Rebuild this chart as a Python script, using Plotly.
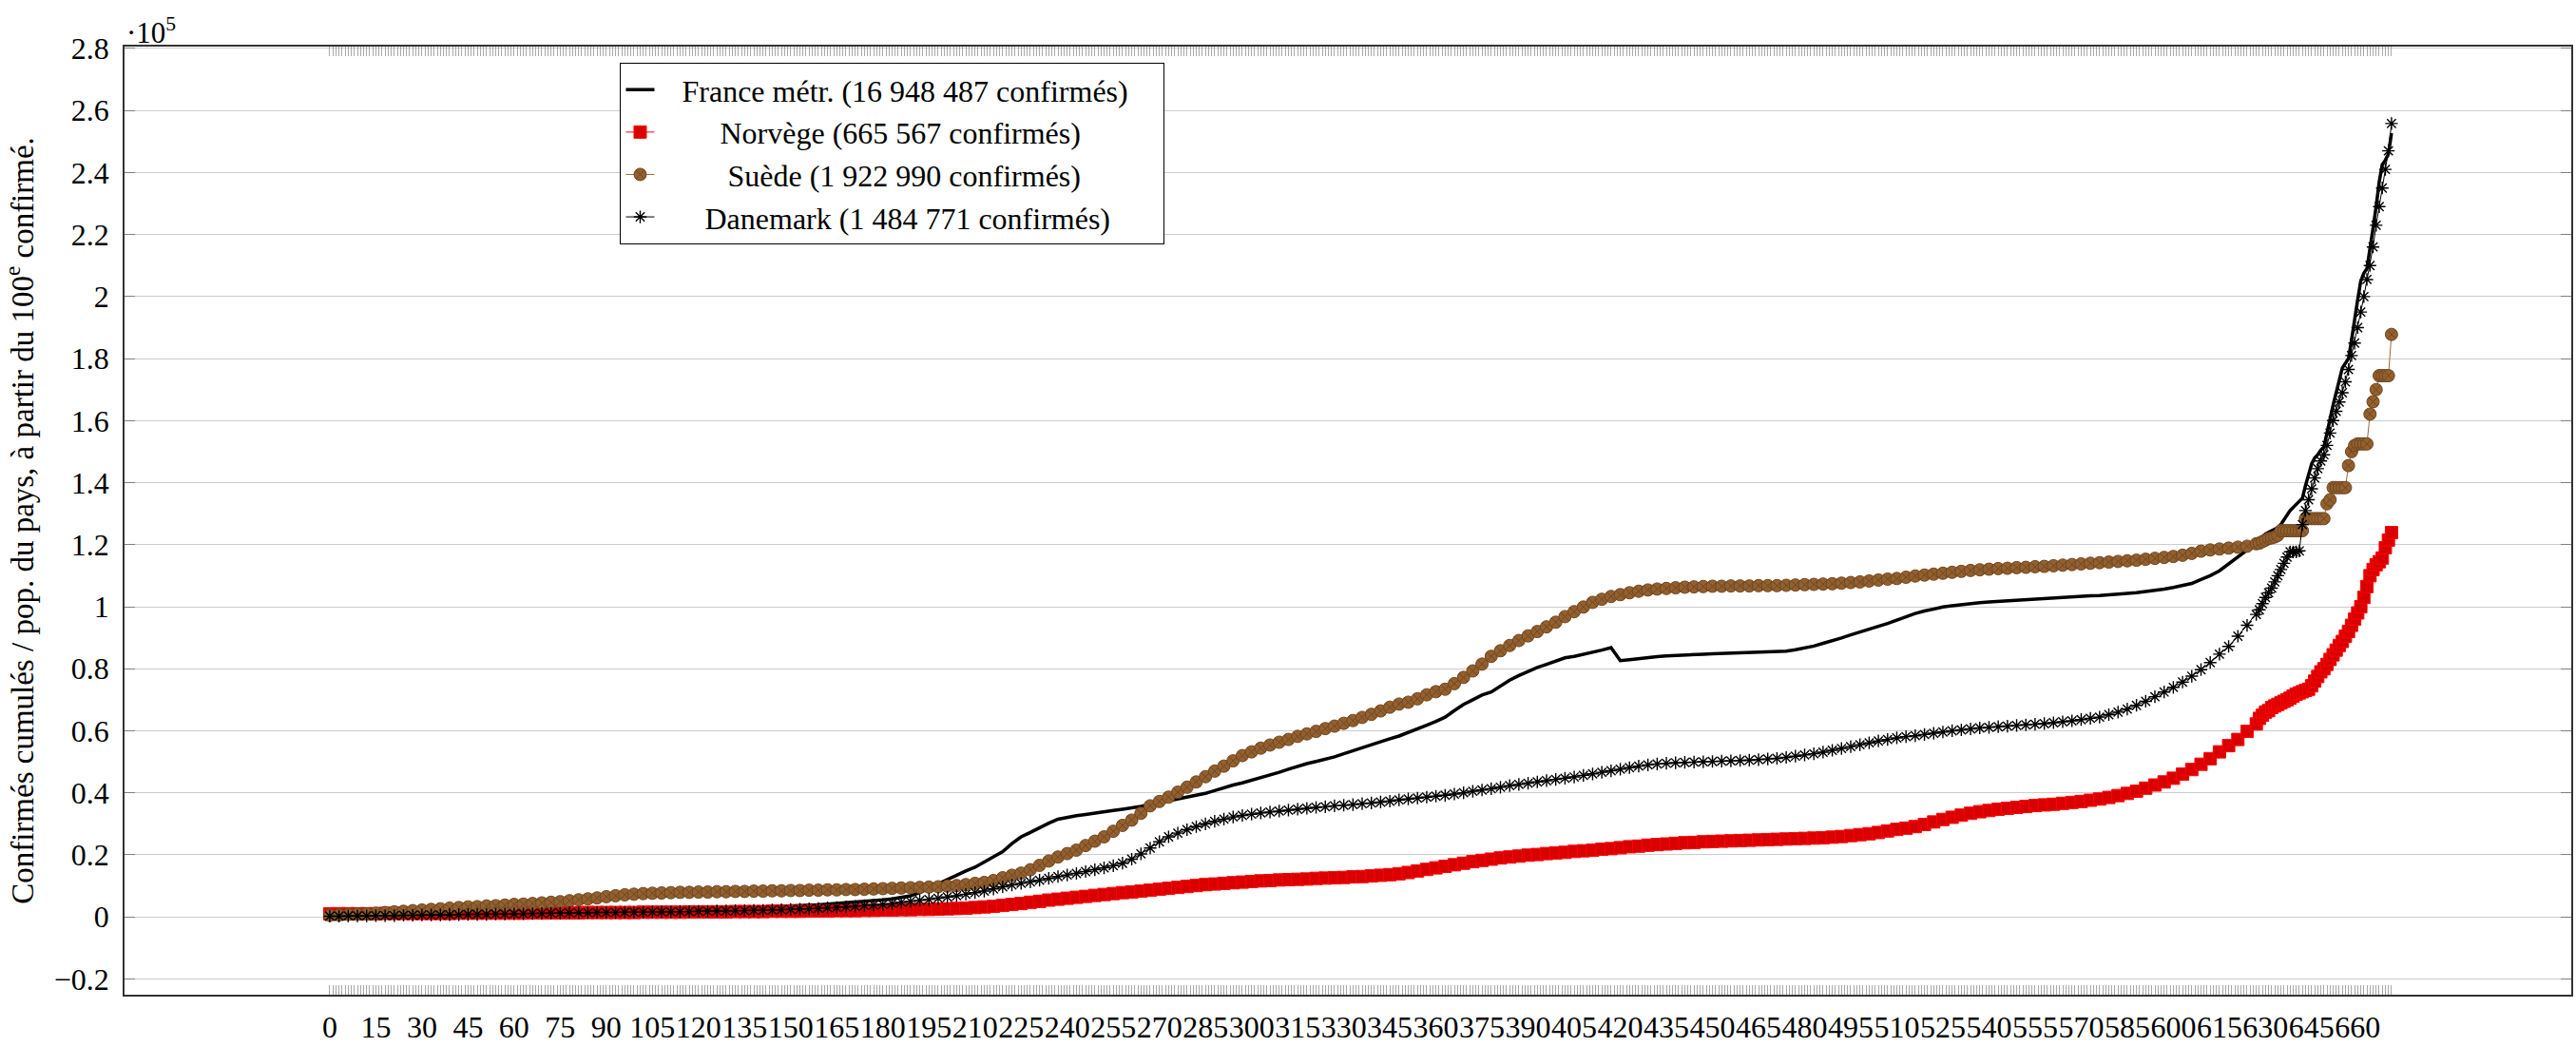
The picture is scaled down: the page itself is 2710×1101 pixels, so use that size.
import plotly.graph_objects as go

# ---------------- data (values in units of 10^5, as displayed on the axis) ----------------
# day index since the 100th confirmed case: every 3 days up to 627, then daily up to 671
days = list(range(0, 628, 3)) + list(range(628, 672))

france_3d = [
    0.002, 0.003, 0.003, 0.004, 0.004, 0.005, 0.005, 0.006, 0.006, 0.007,
    0.008, 0.008, 0.009, 0.009, 0.010, 0.010, 0.011, 0.011, 0.012, 0.012,
    0.013, 0.013, 0.014, 0.014, 0.015, 0.015, 0.016, 0.016, 0.017, 0.017,
    0.018, 0.018, 0.019, 0.020, 0.020, 0.021, 0.022, 0.023, 0.023, 0.024,
    0.025, 0.025, 0.026, 0.027, 0.028, 0.029, 0.030, 0.031, 0.032, 0.033,
    0.034, 0.035, 0.037, 0.039, 0.041, 0.043, 0.045, 0.047, 0.050, 0.052,
    0.055, 0.058, 0.062, 0.068, 0.078, 0.092, 0.108, 0.120, 0.135, 0.148,
    0.160, 0.176, 0.193, 0.210, 0.236, 0.258, 0.272, 0.288, 0.302, 0.315,
    0.321, 0.326, 0.330, 0.335, 0.339, 0.343, 0.347, 0.351, 0.356, 0.362,
    0.368, 0.373, 0.380, 0.386, 0.391, 0.398, 0.407, 0.417, 0.425, 0.432,
    0.440, 0.448, 0.456, 0.466, 0.476, 0.486, 0.494, 0.501, 0.508, 0.516,
    0.526, 0.536, 0.546, 0.555, 0.564, 0.574, 0.583, 0.594, 0.605, 0.618,
    0.630, 0.644, 0.665, 0.685, 0.700, 0.715, 0.725, 0.745, 0.763, 0.778,
    0.792, 0.804, 0.814, 0.825, 0.835, 0.840, 0.846, 0.852, 0.860, 0.868,
    0.826, 0.829, 0.833, 0.836, 0.839, 0.841, 0.843, 0.845, 0.846, 0.847,
    0.848, 0.849, 0.849, 0.850, 0.851, 0.852, 0.853, 0.854, 0.857, 0.861,
    0.866, 0.873, 0.882, 0.890, 0.899, 0.909, 0.918, 0.928, 0.937, 0.946,
    0.957, 0.968, 0.978, 0.986, 0.993, 0.999, 1.003, 1.007, 1.010, 1.013,
    1.015, 1.017, 1.019, 1.020, 1.022, 1.024, 1.026, 1.028, 1.030, 1.032,
    1.033, 1.035, 1.036, 1.038, 1.040, 1.042, 1.045, 1.049, 1.052, 1.057,
    1.062, 1.068, 1.075, 1.088, 1.100, 1.116, 1.138, 1.160, 1.185, 1.205,
]
france_tail = [
    1.215, 1.225, 1.235, 1.240, 1.245, 1.250, 1.255, 1.265, 1.280, 1.295,
    1.310, 1.320, 1.330, 1.340, 1.350, 1.390, 1.430, 1.460, 1.480, 1.490,
    1.505, 1.515, 1.560, 1.610, 1.650, 1.690, 1.730, 1.770, 1.785, 1.800,
    1.860, 1.930, 1.990, 2.050, 2.075, 2.090, 2.150, 2.220, 2.290, 2.370,
    2.425, 2.440, 2.460, 2.527,
]

norvege_3d = [
    0.010, 0.010, 0.010, 0.010, 0.010, 0.010, 0.011, 0.011, 0.011, 0.011,
    0.011, 0.011, 0.011, 0.011, 0.012, 0.012, 0.012, 0.012, 0.012, 0.012,
    0.012, 0.012, 0.013, 0.013, 0.013, 0.013, 0.013, 0.013, 0.014, 0.014,
    0.014, 0.014, 0.014, 0.014, 0.015, 0.015, 0.015, 0.015, 0.015, 0.016,
    0.016, 0.016, 0.016, 0.016, 0.017, 0.017, 0.017, 0.017, 0.018, 0.018,
    0.018, 0.018, 0.019, 0.019, 0.019, 0.020, 0.020, 0.020, 0.021, 0.021,
    0.022, 0.022, 0.023, 0.023, 0.024, 0.024, 0.025, 0.026, 0.027, 0.028,
    0.030, 0.032, 0.034, 0.037, 0.040, 0.043, 0.047, 0.050, 0.054, 0.057,
    0.060, 0.063, 0.066, 0.069, 0.072, 0.075, 0.078, 0.080, 0.083, 0.086,
    0.089, 0.092, 0.095, 0.098, 0.101, 0.104, 0.106, 0.108, 0.110, 0.112,
    0.114, 0.116, 0.117, 0.119, 0.120, 0.121, 0.122, 0.124, 0.125, 0.126,
    0.127, 0.129, 0.130, 0.132, 0.134, 0.136, 0.139, 0.143, 0.148, 0.153,
    0.158, 0.163, 0.168, 0.173, 0.178, 0.182, 0.186, 0.190, 0.193, 0.196,
    0.199, 0.201, 0.204, 0.206, 0.208, 0.211, 0.213, 0.215, 0.218, 0.220,
    0.223, 0.226, 0.228, 0.231, 0.233, 0.235, 0.237, 0.239, 0.240, 0.242,
    0.243, 0.244, 0.245, 0.246, 0.247, 0.248, 0.249, 0.250, 0.251, 0.252,
    0.253, 0.254, 0.255, 0.257, 0.259, 0.262, 0.265, 0.268, 0.272, 0.277,
    0.282, 0.286, 0.291, 0.298, 0.306, 0.314, 0.321, 0.328, 0.334, 0.339,
    0.343, 0.347, 0.350, 0.353, 0.356, 0.359, 0.361, 0.363, 0.366, 0.369,
    0.372, 0.376, 0.380, 0.385, 0.391, 0.398, 0.405, 0.415, 0.425, 0.435,
    0.447, 0.460, 0.475, 0.492, 0.510, 0.532, 0.552, 0.572, 0.598, 0.622,
]
norvege_tail = [
    0.640, 0.650, 0.660, 0.665, 0.675, 0.680, 0.685, 0.690, 0.695, 0.700,
    0.705, 0.712, 0.718, 0.722, 0.726, 0.730, 0.734, 0.745, 0.760, 0.775,
    0.790, 0.800, 0.814, 0.830, 0.845, 0.860, 0.875, 0.888, 0.905, 0.920,
    0.940, 0.960, 0.980, 1.000, 1.030, 1.065, 1.100, 1.120, 1.135, 1.145,
    1.157, 1.190, 1.215, 1.239,
]

suede_3d = [
    0.005, 0.006, 0.008, 0.009, 0.010, 0.012, 0.014, 0.016, 0.018, 0.020,
    0.022, 0.024, 0.026, 0.028, 0.030, 0.032, 0.033, 0.035, 0.036, 0.038,
    0.040, 0.041, 0.043, 0.045, 0.047, 0.049, 0.052, 0.055, 0.058, 0.061,
    0.065, 0.068, 0.071, 0.073, 0.075, 0.076, 0.077, 0.078, 0.079, 0.079,
    0.080, 0.080, 0.081, 0.081, 0.082, 0.082, 0.083, 0.083, 0.084, 0.084,
    0.085, 0.085, 0.086, 0.086, 0.087, 0.087, 0.088, 0.088, 0.089, 0.090,
    0.091, 0.092, 0.093, 0.094, 0.095, 0.096, 0.097, 0.099, 0.101, 0.104,
    0.108, 0.111, 0.117, 0.126, 0.134, 0.141, 0.152, 0.166, 0.180, 0.193,
    0.204, 0.215, 0.230, 0.244, 0.258, 0.276, 0.295, 0.312, 0.334, 0.358,
    0.372, 0.386, 0.402, 0.418, 0.435, 0.452, 0.470, 0.486, 0.503, 0.520,
    0.532, 0.544, 0.554, 0.563, 0.572, 0.582, 0.590, 0.598, 0.607, 0.615,
    0.624, 0.633, 0.643, 0.653, 0.664, 0.676, 0.686, 0.692, 0.703, 0.716,
    0.726, 0.734, 0.752, 0.772, 0.793, 0.815, 0.840, 0.858, 0.875, 0.891,
    0.906, 0.920, 0.935, 0.950, 0.968, 0.984, 0.999, 1.014, 1.024, 1.033,
    1.039, 1.045, 1.050, 1.054, 1.057, 1.059, 1.061, 1.063, 1.064, 1.065,
    1.066, 1.066, 1.067, 1.067, 1.067, 1.068, 1.068, 1.068, 1.069, 1.070,
    1.071, 1.072, 1.073, 1.074, 1.076, 1.078, 1.080, 1.083, 1.086, 1.089,
    1.091, 1.095, 1.099, 1.102, 1.105, 1.108, 1.111, 1.114, 1.117, 1.119,
    1.121, 1.123, 1.124, 1.126, 1.127, 1.129, 1.130, 1.132, 1.134, 1.136,
    1.138, 1.140, 1.142, 1.144, 1.146, 1.148, 1.150, 1.153, 1.156, 1.159,
    1.162, 1.166, 1.172, 1.179, 1.183, 1.186, 1.189, 1.192, 1.195, 1.203,
]
suede_tail = [
    1.205, 1.210, 1.215, 1.220, 1.222, 1.225, 1.230, 1.245, 1.245, 1.245,
    1.245, 1.245, 1.245, 1.245, 1.245, 1.284, 1.284, 1.284, 1.284, 1.284,
    1.284, 1.284, 1.332, 1.345, 1.384, 1.384, 1.384, 1.384, 1.384, 1.455,
    1.500, 1.520, 1.525, 1.525, 1.525, 1.525, 1.621, 1.661, 1.700, 1.745,
    1.745, 1.745, 1.745, 1.878,
]

danemark_3d = [
    0.002, 0.002, 0.003, 0.003, 0.003, 0.004, 0.004, 0.004, 0.005, 0.005,
    0.006, 0.006, 0.006, 0.007, 0.007, 0.008, 0.008, 0.008, 0.009, 0.009,
    0.010, 0.010, 0.011, 0.011, 0.012, 0.012, 0.013, 0.013, 0.013, 0.014,
    0.014, 0.014, 0.015, 0.015, 0.015, 0.016, 0.016, 0.016, 0.017, 0.017,
    0.018, 0.018, 0.019, 0.019, 0.020, 0.020, 0.021, 0.021, 0.022, 0.023,
    0.024, 0.025, 0.026, 0.027, 0.029, 0.030, 0.032, 0.034, 0.036, 0.038,
    0.040, 0.043, 0.047, 0.050, 0.053, 0.056, 0.060, 0.064, 0.068, 0.073,
    0.078, 0.083, 0.090, 0.097, 0.103, 0.108, 0.113, 0.118, 0.124, 0.130,
    0.135, 0.140, 0.146, 0.152, 0.158, 0.165, 0.173, 0.186, 0.203, 0.222,
    0.242, 0.258, 0.270, 0.281, 0.291, 0.300, 0.308, 0.315, 0.322, 0.327,
    0.331, 0.335, 0.338, 0.341, 0.344, 0.347, 0.350, 0.353, 0.355, 0.358,
    0.360, 0.362, 0.365, 0.367, 0.370, 0.373, 0.377, 0.380, 0.383, 0.386,
    0.389, 0.392, 0.396, 0.400, 0.405, 0.409, 0.413, 0.418, 0.423, 0.427,
    0.431, 0.435, 0.439, 0.443, 0.447, 0.451, 0.456, 0.461, 0.466, 0.471,
    0.476, 0.481, 0.486, 0.490, 0.493, 0.495, 0.497, 0.498, 0.499, 0.500,
    0.501, 0.502, 0.503, 0.504, 0.505, 0.507, 0.509, 0.511, 0.514, 0.518,
    0.522, 0.526, 0.531, 0.537, 0.543, 0.549, 0.555, 0.561, 0.567, 0.572,
    0.577, 0.581, 0.584, 0.588, 0.592, 0.596, 0.600, 0.603, 0.606, 0.609,
    0.611, 0.613, 0.615, 0.617, 0.619, 0.621, 0.623, 0.626, 0.629, 0.632,
    0.636, 0.640, 0.644, 0.652, 0.660, 0.670, 0.682, 0.695, 0.710, 0.725,
    0.740, 0.757, 0.776, 0.797, 0.820, 0.847, 0.872, 0.905, 0.940, 0.975,
]
danemark_tail = [
    0.990, 1.010, 1.030, 1.045, 1.060, 1.080, 1.100, 1.120, 1.140, 1.160,
    1.177, 1.177, 1.177, 1.180, 1.265, 1.310, 1.345, 1.380, 1.415, 1.445,
    1.470, 1.490, 1.520, 1.560, 1.600, 1.630, 1.660, 1.690, 1.725, 1.765,
    1.810, 1.850, 1.900, 1.950, 2.000, 2.055, 2.100, 2.160, 2.230, 2.290,
    2.350, 2.410, 2.470, 2.558,
]

france = france_3d + france_tail
norvege = norvege_3d + norvege_tail
suede = suede_3d + suede_tail
danemark = danemark_3d + danemark_tail

names = [
    "France métr. (16 948 487 confirmés)",
    "Norvège (665 567 confirmés)",
    "Suède (1 922 990 confirmés)",
    "Danemark (1 484 771 confirmés)",
]
# the reference legend centres each label: pad with no-break spaces
lead_pads = [3, 8, 9, 6]
trail_pads = [4, 0, 0, 0]
legend_labels = ["\u00a0" * a + n + "\u00a0" * b
                 for a, n, b in zip(lead_pads, names, trail_pads)]

# axis ticks
x_tick_days = list(range(0, 672))
x_tick_text = [str(d) if d % 15 == 0 else "" for d in x_tick_days]
y_tick_vals = [-0.2, 0, 0.2, 0.4, 0.6, 0.8, 1, 1.2, 1.4, 1.6, 1.8, 2, 2.2, 2.4, 2.6, 2.8]
y_tick_text = ["\u22120.2", "0", "0.2", "0.4", "0.6", "0.8", "1", "1.2", "1.4", "1.6",
               "1.8", "2", "2.2", "2.4", "2.6", "2.8"]

FONT = "Liberation Serif"

fig = go.Figure()
fig.add_trace(go.Scatter(
    x=days, y=france, name=legend_labels[0], mode="lines",
    line=dict(color="black", width=3.5),
))
fig.add_trace(go.Scatter(
    x=days, y=norvege, name=legend_labels[1], mode="lines+markers",
    line=dict(color="#ff0000", width=1),
    marker=dict(symbol="square", size=13, color="#d80000",
                line=dict(color="#ff0000", width=1)),
))
fig.add_trace(go.Scatter(
    x=days, y=suede, name=legend_labels[2], mode="lines+markers",
    line=dict(color="#9a6a3a", width=1),
    marker=dict(symbol="circle-x", size=13, color="#93602e",
                line=dict(color="#6e4620", width=1)),
))
fig.add_trace(go.Scatter(
    x=days, y=danemark, name=legend_labels[3], mode="lines+markers",
    line=dict(color="black", width=1),
    marker=dict(symbol="asterisk-open", size=11, color="black",
                line=dict(color="#1a1a1a", width=1.4)),
))

fig.update_layout(
    width=2710, height=1101,
    margin=dict(l=131, r=3, t=49, b=37),
    paper_bgcolor="white", plot_bgcolor="white",
    font=dict(family=FONT, size=32, color="black"),
    showlegend=True,
    legend=dict(
        x=0.2026, y=0.983, xanchor="left", yanchor="top",
        bgcolor="white", bordercolor="black", borderwidth=1,
        font=dict(family=FONT, size=32, color="black"),
        tracegroupgap=0, itemsizing="trace",
    ),
    xaxis=dict(
        range=[-66.8, 729.5],
        tickmode="array", tickvals=x_tick_days, ticktext=x_tick_text,
        tickangle=0,
        ticks="inside", ticklen=10, tickwidth=1, tickcolor="#a8a8a8",
        showgrid=False, zeroline=False,
        showline=True, linecolor="#333333", linewidth=1.5, mirror="ticks",
        tickfont=dict(family=FONT, size=32, color="black"),
        ticklabelstandoff=5,
    ),
    yaxis=dict(
        range=[-0.251, 2.806],
        tickmode="array", tickvals=y_tick_vals, ticktext=y_tick_text,
        ticks="inside", ticklen=11, tickwidth=1, tickcolor="#808080",
        showgrid=True, gridcolor="#cccccc", gridwidth=1.2, zeroline=False,
        showline=True, linecolor="#333333", linewidth=1.5, mirror="ticks",
        tickfont=dict(family=FONT, size=32, color="black"),
        ticklabelstandoff=8,
        title=dict(
            text="Confirmés cumulés / pop. du pays, à partir du 100<sup>e</sup> confirmé.",
            font=dict(family=FONT, size=33, color="black"),
            standoff=22,
        ),
    ),
    annotations=[dict(
        text="\u00b710<sup>5</sup>", xref="paper", yref="paper",
        x=0, y=1, xanchor="left", yanchor="bottom", showarrow=False,
        font=dict(family=FONT, size=31, color="black"), yshift=-5,
    )],
)

fig.write_html(
    "out.html",
    config={"displayModeBar": False},
    post_script="document.body.style.margin='0';document.body.style.overflow='hidden';",
)
